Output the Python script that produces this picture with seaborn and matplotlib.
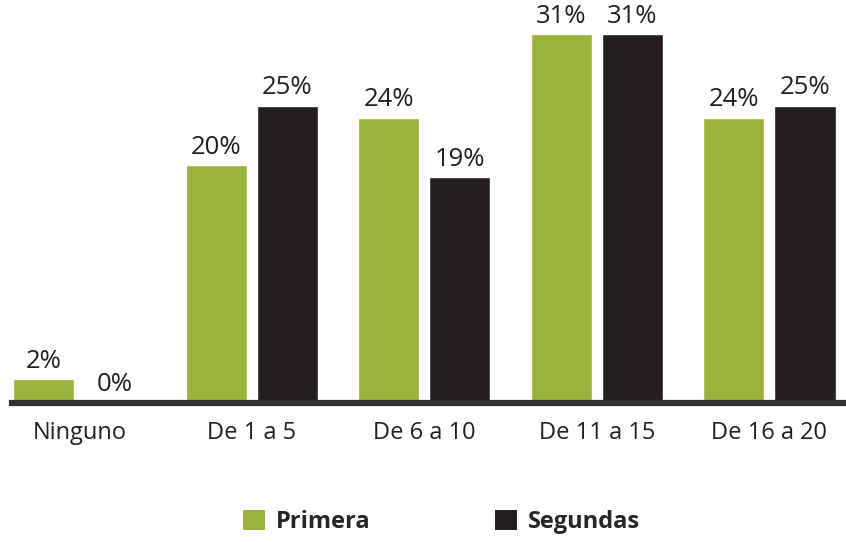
import pandas as pd
import matplotlib.pyplot as plt
import seaborn as sns
from matplotlib.patches import Patch

# datos
categorias = ['Ninguno', 'De 1 a 5', 'De 6 a 10', 'De 11 a 15', 'De 16 a 20']
primera = [2, 20, 24, 31, 24]
segundas = [0, 25, 19, 31, 25]
series = ['Primera', 'Segundas']
colores = ['#9BB23B', '#231F20']

df = pd.DataFrame({
    'Rango': categorias * 2,
    'Serie': [series[0]] * len(categorias) + [series[1]] * len(categorias),
    'Valor': primera + segundas,
})

sns.set_style('white')
plt.rcParams['font.family'] = ['Open Sans', 'DejaVu Sans']

fig = plt.figure(figsize=(8.46, 5.42), dpi=100)
ax = fig.add_axes([12 / 846, (542 - 403) / 542, (846 - 12) / 846, 403 / 542])

sns.barplot(data=df, x='Rango', y='Valor', hue='Serie', palette=colores,
            width=0.824, gap=0.14, ax=ax, legend=False, saturation=1)

for cont in ax.containers:
    ax.bar_label(cont, fmt='%.0f%%', padding=4, fontsize=18.5, color='#231F20')

ax.set_xlim(-0.39, 4.444)
ax.set_ylim(0, 33.9)
ax.set_xlabel('')
ax.set_ylabel('')
ax.set_yticks([])
ax.tick_params(axis='x', length=0, pad=13, labelsize=17, colors='#231F20')

for s in ['top', 'right', 'left']:
    ax.spines[s].set_visible(False)
ax.spines['bottom'].set_color('#333333')
ax.spines['bottom'].set_linewidth(4.5)

handles = [Patch(facecolor=c, edgecolor='none') for c in colores]
fig.legend(handles, series, loc='center', bbox_to_anchor=(0.522, 1 - 522 / 542),
           ncol=2, frameon=False, handlelength=0.93, handleheight=0.93,
           handletextpad=0.45, columnspacing=5.3,
           prop={'weight': 'bold', 'size': 17})

plt.savefig('out.png', dpi=100)
